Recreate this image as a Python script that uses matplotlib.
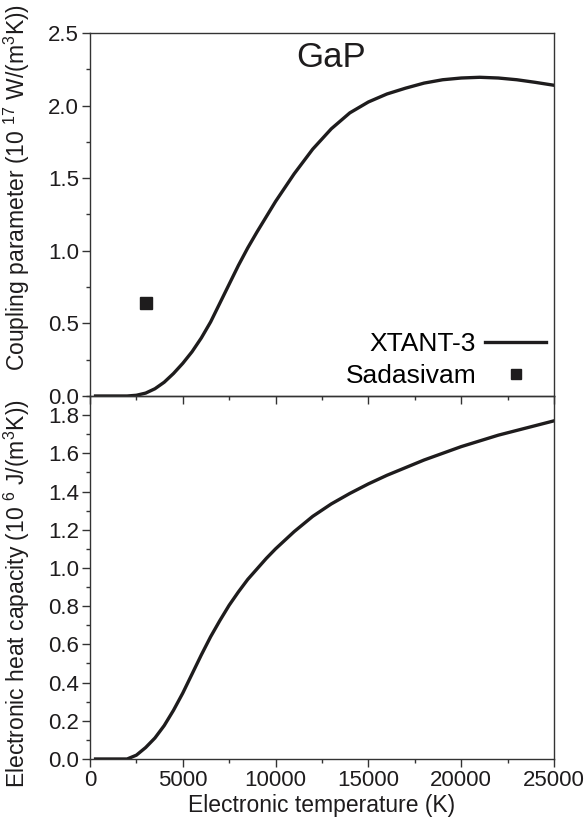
import matplotlib
matplotlib.use('Agg')
import matplotlib.pyplot as plt
from matplotlib.ticker import MultipleLocator

plt.rcParams['font.family'] = ['Liberation Sans', 'DejaVu Sans']
plt.rcParams['mathtext.default'] = 'regular'

# electronic temperature (K)
temp = [300, 1000, 1500, 2000, 2500, 3000, 3500, 4000, 4500, 5000, 5500, 6000,
        6500, 7000, 7500, 8000, 8500, 9000, 9500, 10000, 11000, 12000, 13000,
        14000, 15000, 16000, 17000, 18000, 19000, 20000, 21000, 22000, 23000,
        24000, 25000]

# coupling parameter (1e17 W/(m^3 K))
coupling = [0.0, 0.0, 0.0, 0.0, 0.005, 0.02, 0.05, 0.095, 0.155, 0.225, 0.305,
            0.40, 0.51, 0.64, 0.77, 0.90, 1.02, 1.13, 1.235, 1.34, 1.53, 1.70,
            1.84, 1.95, 2.025, 2.08, 2.12, 2.155, 2.178, 2.19, 2.195, 2.19,
            2.178, 2.16, 2.14]

# electronic heat capacity (1e6 J/(m^3 K))
heat_cap = [0.0, 0.0, 0.0, 0.0, 0.02, 0.06, 0.11, 0.175, 0.255, 0.345, 0.445,
            0.545, 0.64, 0.725, 0.805, 0.875, 0.94, 0.995, 1.05, 1.10, 1.19,
            1.27, 1.335, 1.39, 1.44, 1.485, 1.525, 1.565, 1.60, 1.635, 1.665,
            1.695, 1.72, 1.745, 1.77]

# Sadasivam point
sada_t = [3000]
sada_g = [0.643]

fig = plt.figure(figsize=(5.85, 8.25), dpi=100)
ax1 = fig.add_axes([0.1538, 0.52, 0.7932, 0.44])
ax2 = fig.add_axes([0.1538, 0.08, 0.7932, 0.44])

line_col = '#1e1c1d'
axis_col = '#333333'

ax1.plot(temp, coupling, color=line_col, lw=2.4, label='XTANT-3')
ax1.plot(sada_t, sada_g, 's', color=line_col, ms=8.5, label='Sadasivam', ls='none')
ax1.text(13000, 2.33, 'GaP', fontsize=25, ha='center', va='center', color=line_col)

ax2.plot(temp, heat_cap, color=line_col, lw=2.4)

for ax in (ax1, ax2):
    ax.set_xlim(0, 25000)
    ax.xaxis.set_major_locator(MultipleLocator(5000))
    ax.xaxis.set_minor_locator(MultipleLocator(2500))
    ax.tick_params(which='both', direction='out', top=False, right=False,
                   labelsize=16, colors=axis_col, labelcolor=line_col, width=1)
    ax.tick_params(which='major', length=6, pad=2)
    ax.tick_params(which='minor', length=3)
    for s in ax.spines.values():
        s.set_color(axis_col)
        s.set_linewidth(1)

ax1.set_ylim(0, 2.5)
ax1.yaxis.set_major_locator(MultipleLocator(0.5))
ax1.yaxis.set_minor_locator(MultipleLocator(0.25))
ax1.tick_params(labelbottom=False)
ax1.set_ylabel('Coupling parameter (10 $^{17}$ W/(m$^3$K))', fontsize=16.5, color=line_col)
ax1.yaxis.set_label_coords(-0.125, 0.575)

ax2.set_ylim(0, 1.9)
ax2.yaxis.set_minor_locator(MultipleLocator(0.1))
ax2.set_yticks([0, 0.2, 0.4, 0.6, 0.8, 1.0, 1.2, 1.4, 1.6, 1.8])
ax2.set_ylabel('Electronic heat capacity (10 $^{6}$ J/(m$^3$K))', fontsize=16.5, color=line_col)
ax2.yaxis.set_label_coords(-0.125, 0.455)
ax2.set_xlabel('Electronic temperature (K)', fontsize=16.5, color=line_col, labelpad=2)
ax2.patch.set_visible(False)

ax1.legend(loc='lower right', bbox_to_anchor=(1.0, 0.0), frameon=False,
           markerfirst=False, fontsize=19, handlelength=2.3, handletextpad=0.35,
           borderaxespad=0, labelspacing=0.3, markerscale=0.85, borderpad=0.3)

fig.savefig('out.png', dpi=100)
